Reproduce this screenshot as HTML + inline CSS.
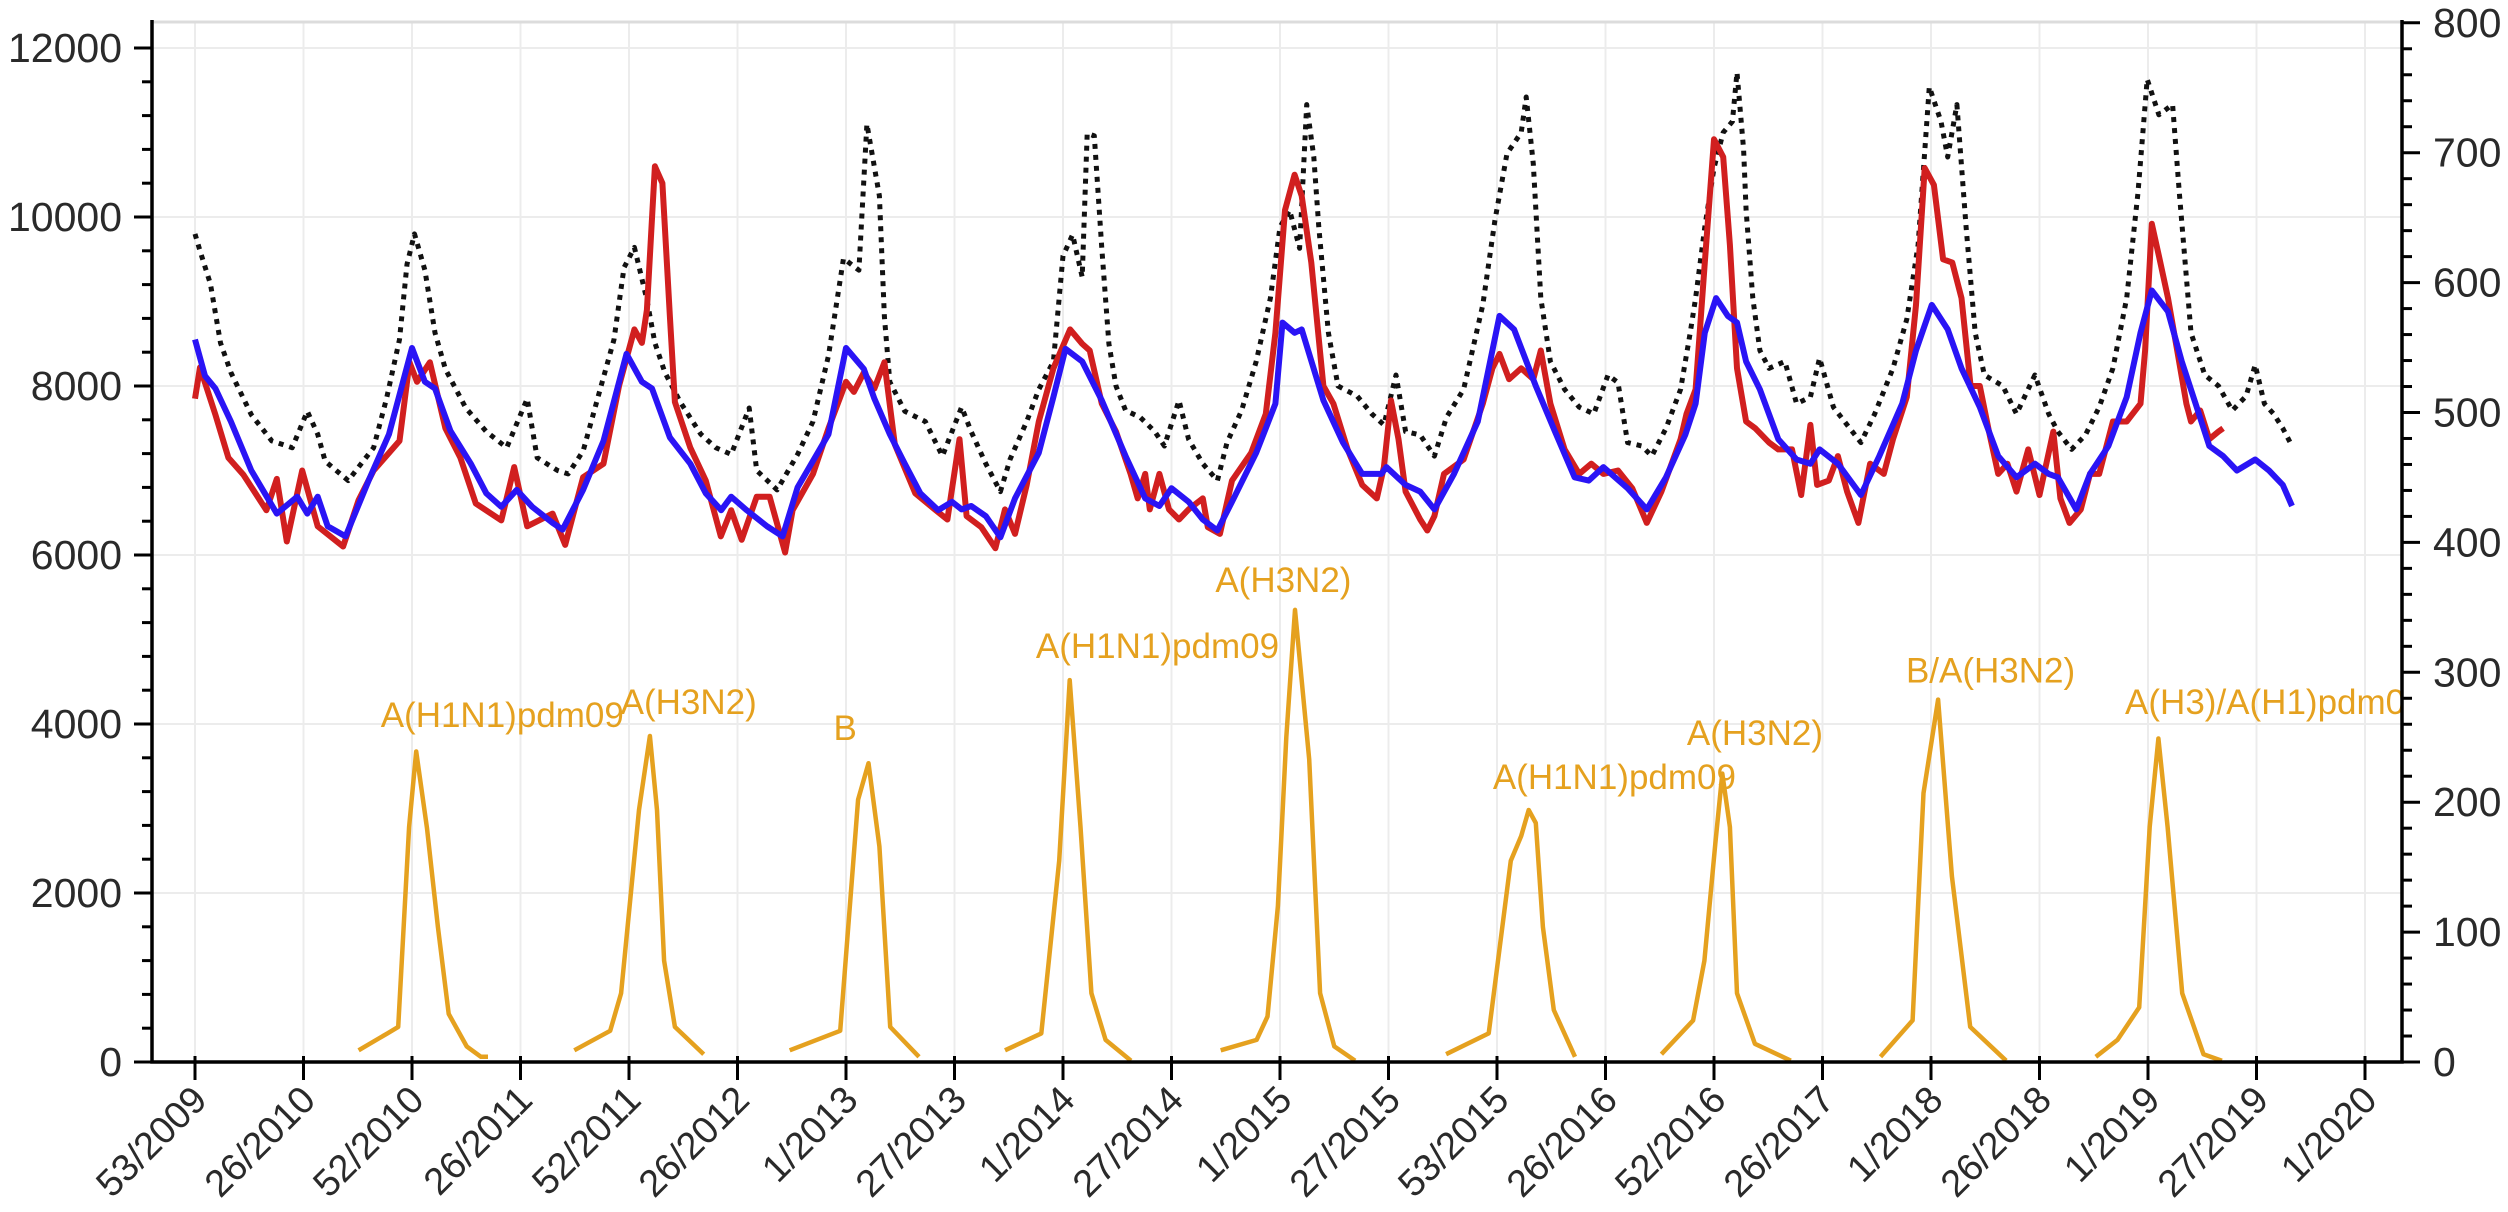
<!DOCTYPE html>
<html><head><meta charset="utf-8"><style>
html,body{margin:0;padding:0;background:#fff;}
svg{display:block;font-family:"Liberation Sans",Arial,sans-serif;}
</style></head><body>
<svg id="chart" width="2508" height="1212" viewBox="0 0 2508 1212" xmlns="http://www.w3.org/2000/svg">
<defs><clipPath id="plotclip"><rect x="152" y="0" width="2250" height="1064"/></clipPath></defs>
<g id="grid"></g>
<g id="series" clip-path="url(#plotclip)"></g>
<g id="axes"></g>
</svg>
<script>
const xTickLabels = ["53/2009","26/2010","52/2010","26/2011","52/2011","26/2012","1/2013","27/2013","1/2014","27/2014","1/2015","27/2015","53/2015","26/2016","52/2016","26/2017","1/2018","26/2018","1/2019","27/2019","1/2020"];
const leftTicks = [0,2000,4000,6000,8000,10000,12000];
const rightTicks = [0,100,200,300,400,500,600,700,800];

const redWeeks = [0,1.2,4.9,8,11.6,17.1,19.6,22,25.7,29.4,35.5,39.2,42.8,49,51.4,53.2,56.3,60,63.6,67.3,73.4,76.5,79.6,85.7,88.7,93,97.9,101.6,105.3,107.1,108.3,110.2,112,113.8,115,118.7,122.4,126,128.5,131,134.6,137.7,141.4,143.2,148.1,151.8,156,157.9,160.3,162.8,165.2,167.7,172.6,177.5,
180.3,183.2,184.9,188.4,191.8,194.1,196.5,199.3,202.2,205.7,209.7,212.6,214.4,217.3,220.7,224.2,225.9,227.7,228.8,231.1,233.4,235.8,238.1,241.5,242.7,245.6,248.5,253.1,256.6,258.9,261.2,263.5,265.2,267.5,270.4,272.8,276.2,279.7,283.2,284.9,286.6,288.4,290.1,293.6,295.3,297,299.3,304,308.6,310.9,312.6,314.9,317.8,320.7,322.5,324.8,328.2,331.7,334.6,337.5,341,344.4,347.9,351.4,356,
357.4,359.6,361.8,364,366.2,367.8,369.5,371.7,373.9,377.2,379.4,382.7,384.9,387.1,388.7,391.5,393.7,395.9,398.6,401.4,404.7,406.9,410.2,412.4,414.5,416.7,418.9,421.1,423.3,425.5,427.7,429.9,432.1,434.3,436.5,439.3,442,445.3,447,449.2,451.9,454.1,456.3,459.6,462.9,466.2,467.3,468.9,470.6,472.8,475,477.2,478.3,480.5,482.7,484.9,486];
const redValues = [7850,8220,7660,7150,6950,6530,6900,6160,7000,6340,6100,6650,7000,7350,8280,8050,8280,7500,7150,6610,6410,7040,6340,6490,6120,6920,7080,8000,8670,8510,8900,10600,10400,8820,7810,7270,6880,6220,6530,6180,6690,6690,6030,6530,6960,7500,8050,7930,8160,7970,8280,7310,6730,6530,
6420,7370,6460,6330,6080,6540,6250,6830,7580,8210,8670,8500,8420,7790,7460,6960,6670,6960,6540,6960,6540,6420,6540,6670,6330,6250,6880,7210,7670,8630,10080,10500,10250,9460,8000,7790,7250,6830,6670,7040,7830,7370,6750,6420,6290,6460,6960,7130,7790,8210,8380,8080,8210,8080,8420,7790,7250,6960,7080,6960,7000,6790,6380,6750,7370,
7670,7960,9460,10920,10710,9670,8210,7580,7500,7330,7250,7250,6710,7540,6830,6880,7170,6750,6380,7080,6960,7370,7870,8960,10580,10380,9500,9460,9040,8000,8000,7460,6960,7080,6750,7250,6710,7460,6670,6380,6540,6960,6960,7580,7580,7790,8420,9920,9540,9040,8420,7790,7580,7710,7370,7460,7500];

const blueWeeks = [0,2.4,4.9,8.6,13.5,19.6,24.5,26.9,29.4,31.8,36.1,41.6,46.5,52,55.1,57.5,61.2,66.1,69.8,73.4,77.1,80.8,85.7,88.1,93,97.9,103.4,107.1,109.5,113.8,118.7,122.4,126.1,128.5,132.2,137.1,140.8,144.4,151.8,156,160.3,162.8,166.5,170.1,173.8,178.1,
181.4,183.7,186,189.5,193,196.5,202.2,205.7,208.6,212.6,217.3,223,227.7,231.1,234,238.1,241.5,245,248.5,254.3,258.9,260.6,263.5,265.2,270.4,275.1,279.7,284.3,285.5,290.1,293.6,297,301.7,307.4,312.6,316.1,321.3,325.9,330.6,334,337.5,343.3,347.9,352.5,357.1,
359.6,361.8,364.5,367.3,369.5,371.7,375,379.4,383.8,387.1,389.3,393.7,399.2,403.6,409.1,412.4,416.2,420,423.3,427.7,432.1,436.5,440.9,444.2,446.4,450.8,454.1,458.5,462.9,466.2,468.9,472.8,476.1,479.4,482.7,486,489.3,493.7,497,500.3,502.5];
const blueValues = [8550,8120,7970,7580,7000,6490,6690,6490,6690,6340,6220,6880,7430,8450,8050,7970,7470,7080,6730,6570,6770,6570,6380,6300,6770,7350,8380,8050,7970,7390,7080,6730,6530,6690,6530,6340,6220,6800,7430,8450,8200,7850,7430,7080,6730,6530,
6630,6540,6580,6460,6210,6670,7210,7870,8440,8290,7830,7170,6670,6580,6790,6630,6420,6290,6630,7210,7790,8750,8630,8670,7830,7330,6960,6960,7040,6830,6750,6540,6960,7580,8830,8670,8000,7460,6920,6880,7040,6790,6540,6920,7420,
7790,8630,9040,8830,8750,8290,7960,7370,7130,7080,7250,7080,6710,7170,7790,8420,8960,8670,8210,7750,7170,6920,7080,6960,6920,6540,6960,7290,7870,8630,9130,8880,8290,7790,7290,7170,7000,7130,7000,6830,6580];

const blackWeeks = [0,1.2,3.7,6.1,8.6,13.5,18.4,23.3,26.9,29.4,31.2,36.7,39.2,42.8,45.9,49,50.8,52.6,55.1,57.5,60,64.9,69.8,74.7,79.6,82,86.9,89.4,93,96.7,100.4,102.8,105.3,108.3,110.2,112.6,116.3,121.2,124.8,128.5,132.8,134.6,139.5,144.4,148.1,151.8,155.4,159.1,161,164,165.2,166.5,170.1,175,
179.1,183.7,186,189.5,193,195.3,199.3,202.2,205.7,208,210.3,212.6,213.8,215.5,217.3,219,220.7,223,226.5,230,232.3,235.8,238.1,241.5,245,247.3,250.8,254.3,257.7,260,262.3,264.7,266.4,268.1,269.3,271.6,273.9,278.5,282,284.9,287.8,290.1,293.6,297,299.9,304,308.6,311.5,314.4,317.8,319,320.7,322.5,324.8,328.2,331.7,335.2,338.6,341,343.3,346.7,349.1,352.5,356,358.3,
359.6,361.8,364,366.2,368.4,369.5,371.1,371.7,373.3,375,377.2,381,383.8,387.1,389.3,392.6,395.9,399.2,402.5,406.9,410.2,412.9,415.6,418.4,420,422.2,424.4,426.6,428.8,433.2,436.5,440.9,444.2,446.4,449.7,453,456.3,459.6,462.9,465.6,467.8,470.6,473.9,475.5,478.3,481.6,484.9,488.2,491.5,493.7,495.9,498.1,500.3,502.5];
const blackValues = [9800,9600,9210,8510,8160,7660,7350,7270,7700,7430,7110,6880,7040,7270,7850,8550,9440,9800,9370,8630,8200,7740,7460,7270,7850,7150,7000,6960,7230,7890,8550,9400,9640,9020,8510,8160,7810,7430,7270,7190,7740,7000,6770,7190,7580,8360,9510,9370,11100,10250,8820,8050,7700,7580,
7170,7750,7460,7080,6750,7130,7580,7960,8290,9540,9790,9290,10990,10960,9630,8500,8000,7710,7630,7460,7290,7830,7370,7080,6880,7330,7710,8290,9040,9880,10080,9630,11330,10710,9880,8630,8000,7880,7670,7540,8130,7460,7420,7170,7630,7960,8960,9960,10750,11000,11420,10630,9040,8290,7960,7750,7670,8130,8040,7330,7290,7170,7500,7960,8630,
9040,9880,10580,11000,11130,11710,10800,10080,9040,8420,8210,8290,7790,7870,8330,7750,7540,7330,7670,8210,8790,9670,11540,11130,10710,11330,9880,8630,8130,8000,7670,8130,7670,7460,7250,7420,7750,8210,9040,10290,11630,11210,11330,10290,8630,8130,8000,7710,7880,8250,7790,7670,7500,7290];

const orangeSeason = [1,1,1,1,1,1,1,1,1,1,1, 2,2,2,2,2,2,2,2,2, 3,3,3,3,3,3,3, 4,4,4,4,4,4,4,4, 5,5,5,5,5,5,5,5,5,5, 6,6,6,6,6,6,6,6,6, 7,7,7,7,7,7,7,7,7, 8,8,8,8,8,8,8, 9,9,9,9,9,9,9,9,9];
const orangeWeeks = [39.2,46.1,48.7,51.3,53,55.6,58.2,60.8,65.1,68.5,70.2, 90.9,99.5,102.1,106.4,109,110.7,112.4,115,121.9, 142.5,154.6,158.9,161.4,164,166.6,173.5, 194.1,202.8,207.1,209.6,212.2,214.8,218.2,224.3, 245.8,254.4,257,259.5,261.5,263.6,267,269.6,273,278, 299.8,310,315.3,317.8,319.6,321.3,323,325.6,330.7, 351.4,359,361.7,364.3,366,367.8,369.5,373.8,382.4, 403.9,411.6,414.2,417.7,421,425.4,434, 455.5,460.7,465.9,468.4,470.5,472.7,476.2,481.3,485.7];
const orangeValues = [9,22,27,181,239,180,104,37,12,4,4, 9,24,53,194,251,194,78,27,6, 9,24,202,230,166,27,4, 9,22,155,294,181,53,17,1, 9,17,35,120,250,348,233,53,12,1, 6,22,155,174,194,184,104,40,4, 6,32,78,168,222,181,53,14,1, 4,32,207,279,143,27,1, 4,17,42,181,249,181,53,6,1];

const subtypeLabels = ["A(H1N1)pdm09","A(H3N2)","B","A(H1N1)pdm09","A(H3N2)","A(H1N1)pdm09","A(H3N2)","B/A(H3N2)","A(H3)/A(H1)pdm09"];
const subtypeWeeks = [44.5,102,153,201.5,244.5,311,357.5,410,462.5];
const subtypeRight = [258,268,248,311,362,210,244,292,268];

const NS="http://www.w3.org/2000/svg";
const X0=195, WPX=108.5/26, Y0=1062, LPX=84.5/1000, RPX=129.9/100, AXL=152, AXR=2402, TOP=22;
function xs(w){return X0+w*WPX;}
function yl(v){return Y0-v*LPX;}
function yr(v){return Y0-v*RPX;}
function mk(tag,attrs,parent){const e=document.createElementNS(NS,tag);for(const k in attrs)e.setAttribute(k,attrs[k]);parent.appendChild(e);return e;}
const grid=document.getElementById('grid'), series=document.getElementById('series'), axes=document.getElementById('axes');

leftTicks.forEach(v=>{const g=mk('line',{x1:AXL,x2:AXR,y1:yl(v),y2:yl(v),stroke:'#ececec','stroke-width':2},grid);

});
xTickLabels.forEach((t,i)=>{const g=mk('line',{x1:xs(i*26),x2:xs(i*26),y1:TOP,y2:Y0,stroke:'#ececec','stroke-width':2},grid);

});
const tb=mk('line',{x1:AXL,x2:AXR,y1:TOP,y2:TOP,stroke:'#dcdcdc','stroke-width':3},grid);



function line(weeks,vals,ys,color,w,dash,name){
  let d='';weeks.forEach((wk,i)=>{d+=(i?'L':'M')+xs(wk).toFixed(1)+','+ys(vals[i]).toFixed(1);});
  const p=mk('path',{d:d,fill:'none',stroke:color,'stroke-width':w,'stroke-linejoin':'round'},series);
  if(dash)p.setAttribute('stroke-dasharray',dash);
  
  
}
line(blackWeeks,blackValues,yl,'#111',5,'5 6','black-dotted-series');
line(redWeeks,redValues,yl,'#d11f1f',6,null,'red-series');
line(blueWeeks,blueValues,yl,'#2a14f5',6,null,'blue-series');
for(let s=1;s<=9;s++){
  const w=[],v=[];orangeSeason.forEach((ss,i)=>{if(ss===s){w.push(orangeWeeks[i]);v.push(orangeValues[i]);}});
  line(w,v,yr,'#e5a11f',4.5,null,'orange-season-'+s);
}
subtypeLabels.forEach((t,i)=>{const e=mk('text',{x:xs(subtypeWeeks[i]),y:yr(subtypeRight[i]),fill:'#e5a11f','font-size':35},series);e.textContent=t;

});

const ax=mk('path',{d:`M${AXL},${TOP-2}V${Y0}H${AXR}V${TOP-2}`,fill:'none',stroke:'#000','stroke-width':3.5},axes);


for(let v=0;v<=12000;v+=400){const maj=v%2000===0;const t=mk('line',{x1:AXL-(maj?18:10),x2:AXL,y1:yl(v),y2:yl(v),stroke:'#000','stroke-width':3},axes);

}
leftTicks.forEach(v=>{const e=mk('text',{x:AXL-30,y:yl(v)+14,'text-anchor':'end','font-size':41,fill:'#2a2a2a'},axes);e.textContent=v;

});
for(let v=0;v<=800;v+=20){const maj=v%100===0;const t=mk('line',{x1:AXR,x2:AXR+(maj?18:10),y1:yr(v),y2:yr(v),stroke:'#000','stroke-width':3},axes);

}
rightTicks.forEach(v=>{const e=mk('text',{x:AXR+31,y:yr(v)+14,'font-size':41,fill:'#2a2a2a'},axes);e.textContent=v;

});
xTickLabels.forEach((t,i)=>{const x=xs(i*26);
  const tk=mk('line',{x1:x,x2:x,y1:Y0-6,y2:Y0+18,stroke:'#000','stroke-width':3},axes);
  
  
  const e=mk('text',{x:x+14,y:Y0+40,'text-anchor':'end','font-size':38,fill:'#2a2a2a',transform:`rotate(-45 ${x+14} ${Y0+40})`},axes);e.textContent=t;
  
  });
</script>
</body></html>
